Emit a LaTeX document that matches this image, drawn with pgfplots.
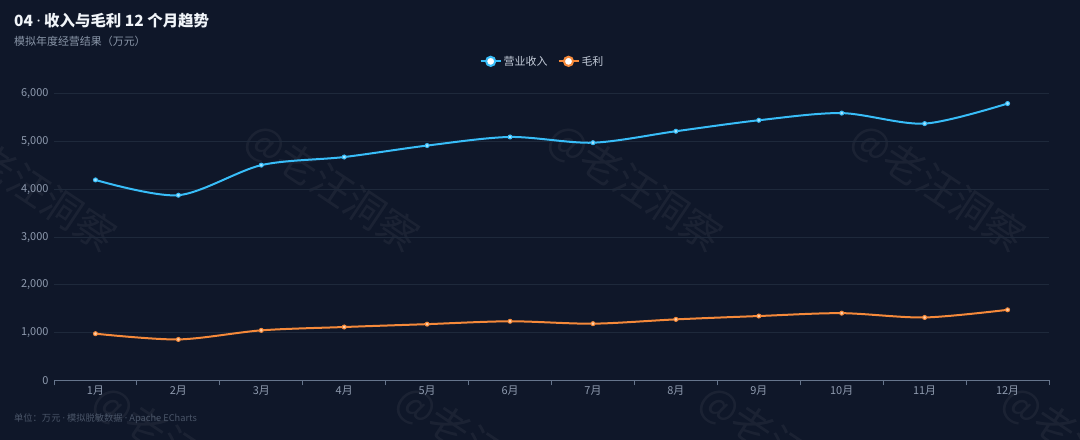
\documentclass[border=0pt]{standalone}
\usepackage{pgfplots}
\pgfplotsset{compat=1.18}
\usepackage{fontspec}
\setmainfont{Noto Sans CJK SC}
\newfontfamily\latinfont{Noto Sans}
\definecolor{bg}{HTML}{0F1729}
\definecolor{titlec}{HTML}{F1F5F9}
\definecolor{subc}{HTML}{8A96A8}
\definecolor{tickc}{HTML}{8E9AAE}
\definecolor{footc}{HTML}{4A5568}
\definecolor{gridc}{HTML}{1E293B}
\definecolor{axisc}{HTML}{66758C}
\definecolor{rev}{HTML}{38BDF8}
\definecolor{revlight}{HTML}{A5E4FF}
\definecolor{gp}{HTML}{F5893A}
\definecolor{gplight}{HTML}{FFD0A8}
\definecolor{legc}{HTML}{C3CBD8}
\pgfplotstableread{
m rev gp
1 4200 980
2 3880 860
3 4510 1050
4 4680 1120
5 4920 1180
6 5100 1240
7 4980 1190
8 5220 1280
9 5450 1350
10 5600 1410
11 5380 1320
12 5800 1480
}\datatable
\begin{document}
\begin{tikzpicture}[x=1bp,y=1bp]
\fill[bg] (0,0) rectangle (1080,440);
% watermarks
\begin{scope}[every node/.style={rotate=-33.7, text=white, text opacity=0.05, font=\fontsize{40}{40}\selectfont, inner sep=0}]
\foreach \cx in {29,332,635,938} {\node at (\cx,252) {@老汪洞察};}
\foreach \cx in {180,483,786,1089} {\node at (\cx,-10) {@老汪洞察};}
\end{scope}
\node[anchor=base west, text=titlec, font=\fontsize{15.5}{18}\selectfont\bfseries, inner sep=0] at (14,413) {04 {\latinfont ·} 收入与毛利 12 个月趋势};
\node[anchor=base west, text=subc, font=\fontsize{11}{13}\selectfont, inner sep=0] at (14,394) {模拟年度经营结果（万元）};
\node[anchor=base west, text=footc, font=\fontsize{9.3}{11}\selectfont, inner sep=0] at (14,18) {单位：万元 {\latinfont ·} 模拟脱敏数据 {\latinfont ·} Apache ECharts};
\begin{axis}[
  at={(54bp,59.5bp)}, anchor=south west,
  scale only axis, width=995bp, height=286.5bp,
  xmin=0.5, xmax=12.5, ymin=0, ymax=6000,
  axis x line*=bottom, axis y line*=left,
  y axis line style={draw=none},
  x axis line style={draw=axisc, line width=1bp, -},
  xtick={1,...,12},
  xticklabels={1月,2月,3月,4月,5月,6月,7月,8月,9月,10月,11月,12月},
  major tick length=0pt,
  extra x ticks={0.5,1.5,...,12.5},
  extra x tick labels={},
  extra x tick style={major tick length=5bp, tick align=outside, tick style={draw=axisc, line width=1bp}},
  ytick={0,1000,...,6000},
  yticklabels={0,{1,000},{2,000},{3,000},{4,000},{5,000},{6,000}},
  ymajorgrids, grid style={draw=gridc, line width=1bp},
  ytick style={draw=none},
  tick label style={text=tickc, font=\fontsize{11}{13}\selectfont},
  xticklabel style={yshift=-2bp},
  yticklabel style={xshift=-2bp},
  clip=false,
  legend style={at={(0.491,1.114)}, anchor=center, draw=none, fill=none, text=legc, font=\fontsize{11}{13}\selectfont, legend columns=2, /tikz/every even column/.append style={column sep=8bp}},
]
\addplot[rev, line width=2bp, smooth, tension=0.5, mark=*, mark size=2bp, mark options={fill=revlight, draw=rev, line width=1bp},
  legend image code/.code={\draw[rev, line width=2bp] (-1bp,0bp)--(19bp,0bp); \draw[rev, line width=2bp, fill=white] (9bp,0bp) circle (4.6bp);}]
  table[x=m, y=rev] {\datatable};
\addlegendentry{营业收入}
\addplot[gp, line width=2bp, smooth, tension=0.5, mark=*, mark size=2bp, mark options={fill=gplight, draw=gp, line width=1bp},
  legend image code/.code={\draw[gp, line width=2bp] (-1bp,0bp)--(19bp,0bp); \draw[gp, line width=2bp, fill=white] (9bp,0bp) circle (4.6bp);}]
  table[x=m, y=gp] {\datatable};
\addlegendentry{毛利}
\end{axis}
\pgfresetboundingbox
\path (0,0) rectangle (1080,440);
\end{tikzpicture}
\end{document}
